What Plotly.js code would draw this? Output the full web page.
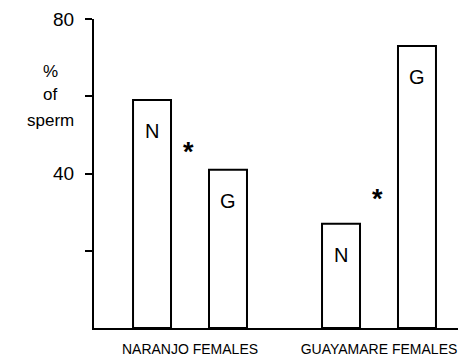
<!DOCTYPE html>
<html>
<head>
<meta charset="utf-8">
<script src="https://cdn.plot.ly/plotly-3.0.1.min.js"></script>
<style>html,body{margin:0;padding:0;background:#fff;}#chart{width:473px;height:357px;}</style>
</head>
<body>
<div id="chart"></div>
<script>
const categories = ["NARANJO FEMALES", "GUAYAMARE FEMALES"];
const valuesN = [59, 27];
const valuesG = [41, 73];
const barLetters = ["N", "G"];
const sigY = [46, 34];
const yTickVals = [20, 40, 60, 80];
const yTickText = ["", "40", "", "80"];
const yTitleLines = ["%", "of", "sperm"];

const font = "Liberation Sans, Arial, Helvetica, sans-serif";
const barStyle = {color: "#ffffff", line: {color: "#000000", width: 2}};

const traces = [
  {type: "bar", name: "N", x: categories, y: valuesN, marker: barStyle, hoverinfo: "none"},
  {type: "bar", name: "G", x: categories, y: valuesG, marker: barStyle, hoverinfo: "none"}
];

const annotations = [];
[valuesN, valuesG].forEach((vals, ti) => {
  vals.forEach((v, ci) => {
    annotations.push({
      x: categories[ci], y: v, xref: "x", yref: "y",
      text: barLetters[ti], showarrow: false,
      xshift: ti === 0 ? -38 : 38, yshift: -31,
      yanchor: "middle", xanchor: "center",
      font: {family: font, size: 20, color: "#000"}
    });
  });
});
sigY.forEach((v, ci) => {
  annotations.push({
    x: categories[ci], y: v, xref: "x", yref: "y",
    text: "<b>*</b>", showarrow: false, xshift: -2, yshift: -2,
    yanchor: "middle", xanchor: "center",
    font: {family: font, size: 27, color: "#000"}
  });
});
const titleY = [71, 95, 120];
yTitleLines.forEach((t, i) => {
  annotations.push({
    x: 50, y: titleY[i], xref: "paper", yref: "paper",
    text: t, showarrow: false, xanchor: "center", yanchor: "middle",
    font: {family: font, size: 17, color: "#000"}
  });
});
// convert pixel positions of title lines to paper coords
annotations.forEach(a => {
  if (a.xref === "paper") {
    a.x = (a.x - 94) / (473 - 94 - 15);
    a.y = (357 - 29 - a.y) / (357 - 19 - 29);
  }
});

const layout = {
  width: 473, height: 357,
  margin: {l: 94, r: 15, t: 19, b: 29},
  paper_bgcolor: "#fff", plot_bgcolor: "#fff",
  showlegend: false,
  barmode: "group", bargap: 0.196, bargroupgap: 0.5,
  font: {family: font, color: "#000"},
  xaxis: {
    type: "category", range: [-0.508, 1.418],
    showline: true, linecolor: "#000", linewidth: 2,
    ticks: "", showgrid: false, zeroline: false,
    tickfont: {family: font, size: 14, color: "#000"},
    ticklabelstandoff: 7
  },
  yaxis: {
    range: [0, 80], showline: true, linecolor: "#000", linewidth: 2,
    ticks: "outside", ticklen: 7, tickwidth: 2, tickcolor: "#000",
    tickvals: yTickVals, ticktext: yTickText,
    showgrid: false, zeroline: false,
    tickfont: {family: font, size: 19, color: "#000"},
    ticklabelstandoff: 7
  },
  annotations: annotations
};

Plotly.newPlot("chart", traces, layout, {staticPlot: true, displayModeBar: false});
</script>
</body>
</html>
